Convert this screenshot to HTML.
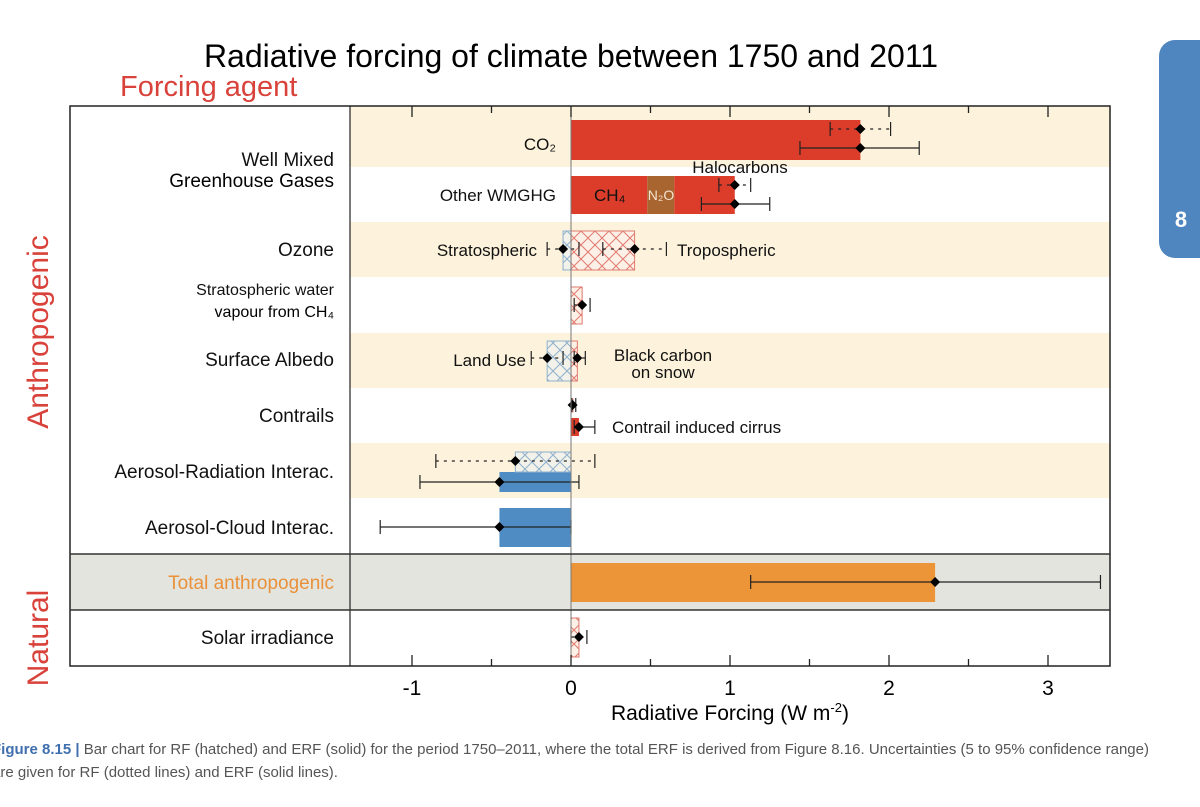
<!DOCTYPE html>
<html><head><meta charset="utf-8"><style>
body{margin:0;background:#fff;width:1200px;height:802px;overflow:hidden;font-family:"Liberation Sans",sans-serif}
svg text{font-family:"Liberation Sans",sans-serif}
</style></head><body>
<svg width="1200" height="802">
<defs>
<pattern id="hr" width="14" height="14" patternUnits="userSpaceOnUse"><rect width="14" height="14" fill="#fdf0e6"/><path d="M0 0L14 14M14 0L0 14" stroke="#e07a70" stroke-width="1"/></pattern>
<pattern id="hb" width="14" height="14" patternUnits="userSpaceOnUse"><rect width="14" height="14" fill="#f2f2ea"/><path d="M0 0L14 14M14 0L0 14" stroke="#8fb0cc" stroke-width="1"/></pattern>
</defs>
<rect x="1159" y="40" width="60" height="218" rx="16" fill="#4f86c0"/>
<text x="1181" y="227" font-size="22" font-weight="bold" fill="#fff" text-anchor="middle">8</text>
<text x="571" y="67" font-size="32" text-anchor="middle">Radiative forcing of climate between 1750 and 2011</text>
<text x="120" y="96" font-size="29" fill="#d9423a">Forcing agent</text>
<text transform="translate(48,332) rotate(-90)" font-size="30" fill="#d9423a" text-anchor="middle">Anthropogenic</text>
<text transform="translate(48,638) rotate(-90)" font-size="30" fill="#d9423a" text-anchor="middle">Natural</text>
<g id="rows"></g>
<g id="marks"></g>
<g id="frame"></g>
<text x="730" y="720" font-size="21" text-anchor="middle">Radiative Forcing (W m<tspan font-size="13" dy="-8">-2</tspan><tspan dy="8">)</tspan></text>
<text x="-8" y="754" font-size="15" fill="#555"><tspan fill="#3f6fae" font-weight="bold">Figure 8.15 |</tspan> Bar chart for RF (hatched) and ERF (solid) for the period 1750–2011, where the total ERF is derived from Figure 8.16. Uncertainties (5 to 95% confidence range)</text>
<text x="-8" y="777" font-size="15" fill="#555">are given for RF (dotted lines) and ERF (solid lines).</text>
</svg>
<script>
const NS='http://www.w3.org/2000/svg';
const X0=571, PX=159, L=70, D=350, R=1110, T=106, B=666;
const xs=v=>X0+v*PX;
function mk(p,tag,a,txt){const e=document.createElementNS(NS,tag);for(const k in a)e.setAttribute(k,a[k]);if(txt!==undefined)e.textContent=txt;p.appendChild(e);return e;}
const rowTops=[106,167,222,277,333,388,443,498,554,610];
const rowBots=[167,222,277,333,388,443,498,554,610,666];
const rowFill=['#fdf3dc','#fff','#fdf3dc','#fff','#fdf3dc','#fff','#fdf3dc','#fff','#e4e4df','#fff'];
const rg=document.getElementById('rows');
rowTops.forEach((t,i)=>{const full=i===8;
 const r=mk(rg,'rect',{x:full?L:D,y:t,width:full?R-L:R-D,height:rowBots[i]-t,fill:rowFill[i]});
 
 });
const labels=[["Well Mixed","Greenhouse Gases",170],["Ozone","",256],["Stratospheric water","vapour from CH₄",299],["Surface Albedo","",366],["Contrails","",422],["Aerosol-Radiation Interac.","",478],["Aerosol-Cloud Interac.","",534],["Total anthropogenic","",589],["Solar irradiance","",644]];
labels.forEach((l,i)=>{const fs=i===2?16:19;const fill=i===7?'#e8913a':'#111';
 const t=mk(rg,'text',{x:334,y:l[1]?l[2]-4:l[2],'font-size':fs,'text-anchor':'end',fill},l[0]);
 
 
 if(l[1]){const t2=mk(rg,'text',{x:334,y:l[2]+(i===2?18:17),'font-size':fs,'text-anchor':'end'},l[1]);
 
 }});
const erfStart=[0,0,0.48,0.65,0,-0.45,-0.45,0];
const erfEnd=[1.82,0.48,0.65,1.03,0.05,0,0,2.29];
const erfY=[[120,160],[176,214],[176,214],[176,214],[418,436],[472,492],[508,547],[563,602]];
const erfCol=['#dc3d2b','#dc3d2b','#a9652f','#dc3d2b','#dc3d2b','#4f8cc4','#4f8cc4','#ec9538'];
const rfStart=[-0.05,0,0,-0.15,0,0,-0.35,0];
const rfEnd=[0,0.40,0.07,0,0.04,0.01,0,0.05];
const rfY=[[231,270],[231,270],[287,324],[341,381],[341,381],[399,412],[452,472],[618,657]];
const rfPat=['hb','hr','hr','hb','hr','hr','hb','hr'];
const rfVal=[1.82,1.03,-0.05,0.40,0.07,-0.15,0.04,0.01,-0.35,0.05];
const rfLo=[1.63,0.93,-0.15,0.20,0.02,-0.25,0.02,0.005,-0.85,0.0];
const rfHi=[2.01,1.13,0.05,0.60,0.12,-0.05,0.09,0.03,0.15,0.10];
const rfPY=[129,185,249,249,305,358,358,405,461,637];
const erfVal=[1.82,1.03,0.05,-0.45,-0.45,2.29];
const erfLo=[1.44,0.82,0.02,-0.95,-1.20,1.13];
const erfHi=[2.19,1.25,0.15,0.05,0.0,3.33];
const erfPY=[148,204,427,482,527,582];
const mg=document.getElementById('marks');
erfStart.forEach((s,i)=>{const r=mk(mg,'rect',{x:xs(s),y:erfY[i][0],width:xs(erfEnd[i])-xs(s),height:erfY[i][1]-erfY[i][0],fill:erfCol[i]});
 
 });
rfStart.forEach((s,i)=>{const st=rfPat[i]==='hr'?'#e07a70':'#8fb0cc';const r=mk(mg,'rect',{x:xs(s),y:rfY[i][0],width:Math.max(2,xs(rfEnd[i])-xs(s)),height:rfY[i][1]-rfY[i][0],fill:'url(#'+rfPat[i]+')',stroke:st,'stroke-width':1});
 
 });
function range(lo,hi,v,y,dash,name){const g=mk(mg,'g',{});
 
 
 const a={y1:y,y2:y,stroke:'#222','stroke-width':1.2};if(dash)a['stroke-dasharray']='3 5';
 mk(g,'line',Object.assign({x1:xs(lo),x2:xs(hi)},a));
 [lo,hi].forEach(e=>mk(g,'line',{x1:xs(e),x2:xs(e),y1:y-7,y2:y+7,stroke:'#222','stroke-width':1.2}));
 const cx=xs(v);mk(g,'path',{d:`M${cx} ${y-5}L${cx+5} ${y}L${cx} ${y+5}L${cx-5} ${y}Z`,fill:'#000'});}
rfVal.forEach((v,i)=>range(rfLo[i],rfHi[i],v,rfPY[i],true,'rf-uncertainty'));
erfVal.forEach((v,i)=>range(erfLo[i],erfHi[i],v,erfPY[i],false,'erf-uncertainty'));
const ann=[['CO₂',556,150,'end',17],['Other WMGHG',556,201,'end',17],['CH₄',594,201,'start',17],['N₂O',661,200,'middle',14,'#f3e3d0'],['Halocarbons',740,173,'middle',17],['Stratospheric',537,256,'end',17],['Tropospheric',677,256,'start',17],['Land Use',526,366,'end',17],['Black carbon',663,361,'middle',17],['on snow',663,378,'middle',17],['Contrail induced cirrus',612,433,'start',17]];
ann.forEach(a=>{const t=mk(mg,'text',{x:a[1],y:a[2],'text-anchor':a[3],'font-size':a[4],fill:a[5]||'#111'},a[0]);
 
 });
const fg=document.getElementById('frame');
mk(fg,'line',{x1:X0,x2:X0,y1:T,y2:B,stroke:'#777','stroke-width':1});
mk(fg,'rect',{x:L,y:T,width:R-L,height:B-T,fill:'none',stroke:'#222','stroke-width':1.5});
mk(fg,'line',{x1:D,x2:D,y1:T,y2:B,stroke:'#222','stroke-width':1.2});
[554,610].forEach(y=>mk(fg,'line',{x1:L,x2:R,y1:y,y2:y,stroke:'#333','stroke-width':1.5}));
const ticks=[-1,-0.5,0,0.5,1,1.5,2,2.5,3];
const tickLabels=['-1','0','1','2','3'];
ticks.forEach(v=>{const len=Number.isInteger(v)?11:7;
 mk(fg,'line',{x1:xs(v),x2:xs(v),y1:B,y2:B-len,stroke:'#222','stroke-width':1.3});
 mk(fg,'line',{x1:xs(v),x2:xs(v),y1:T,y2:T+len,stroke:'#222','stroke-width':1.3});});
tickLabels.forEach(s=>{const t=mk(fg,'text',{x:xs(+s),y:695,'font-size':21,'text-anchor':'middle'},s);
 
 });
</script>
</body></html>
